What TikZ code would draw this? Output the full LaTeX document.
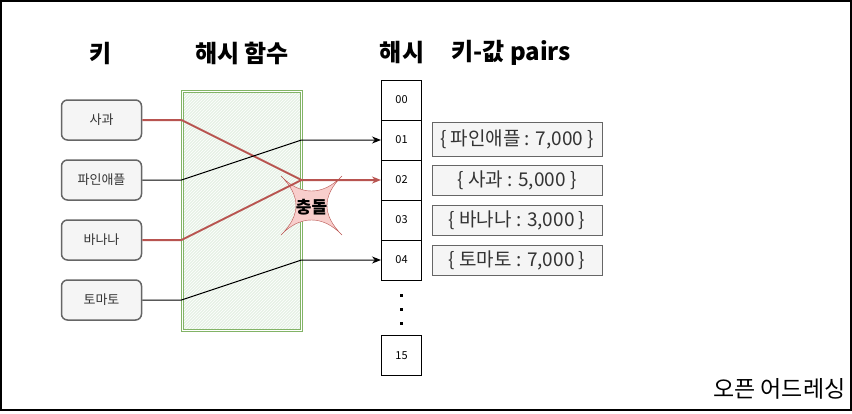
\documentclass[tikz,border=0pt]{standalone}
\usepackage{fontspec}
\setmainfont{Noto Sans CJK KR}
\usetikzlibrary{arrows.meta,positioning,patterns}
\definecolor{cred}{HTML}{B85450}
\definecolor{credlight}{HTML}{F8CECC}
\definecolor{cgreen}{HTML}{82B366}
\definecolor{cgreenlight}{HTML}{D5E8D4}
\definecolor{cgray}{HTML}{666666}
\definecolor{cgraylight}{HTML}{F5F5F5}
\definecolor{ctext}{HTML}{333333}

\begin{document}
\begin{tikzpicture}[x=1pt, y=-1pt,
    title/.style={font=\fontsize{24}{28}\selectfont\bfseries},
    keybox/.style={draw=cgray, fill=cgraylight, rounded corners=6pt, line width=1.5pt,
                   minimum width=80pt, minimum height=40pt, inner sep=0pt,
                   text=ctext, font=\fontsize{13}{15}\selectfont},
    cell/.style={draw, line width=1pt, minimum width=40pt, minimum height=40pt, inner sep=0pt,
                 font=\fontsize{11}{13}\selectfont},
    pairbox/.style={draw=cgray, fill=cgraylight, line width=1pt, minimum width=170pt,
                    minimum height=30pt, inner sep=0pt, text=ctext,
                    font=\fontsize{19}{22}\selectfont},
    arr/.style={-{Stealth[length=9pt, width=7pt]}, line width=1pt},
    redarr/.style={arr, cred, line width=2pt},
    redline/.style={cred, line width=2pt},
]
\useasboundingbox (0,0) rectangle (852,413);

% frame
\draw[line width=1.5pt] (1,1) rectangle (851,410);

% column titles
\node[title] (tkey)  at (101,53) {키};
\node[title] (tfn)   at (242,53) {해시 함수};
\node[title] (thash) at (402,53) {해시};
\node[title] (tpair) at (511,53) {키-값 pairs};

% keys
\node[keybox] (apple)     at (101.5,120) {사과};
\node[keybox] (pineapple) at (101.5,180) {파인애플};
\node[keybox] (banana)    at (101.5,240) {바나나};
\node[keybox] (tomato)    at (101.5,300) {토마토};

% hash function
\node[draw=cgreen, double=white, double distance=1pt, line width=1pt,
      preaction={fill=cgreenlight!60}, pattern=north east lines, pattern color=white,
      minimum width=119pt, minimum height=239pt] (hashfn) at (241.5,210.5) {};

% hash table
\foreach \i/\lab in {0/00,1/01,2/02,3/03,4/04}
    \node[cell] (h\lab) at (401.5,100+40*\i) {\lab};
\foreach \y in {294,308,322}
    \fill (400,\y) rectangle (402.5,\y+2.5);
\node[cell] (h15) at (401.5,355.5) {15};

% key-value pairs
\node[pairbox, minimum height=34pt] (p01) at (517,139) {\{ 파인애플 : 7,000 \}};
\node[pairbox] (p02) at (517,180) {\{ 사과 : 5,000 \}};
\node[pairbox] (p03) at (517,220) {\{ 바나나 : 3,000 \}};
\node[pairbox] (p04) at (517,260) {\{ 토마토 : 7,000 \}};

% collision mark
\draw[cred, fill=credlight]
    (281,176) .. controls (300,196) and (323,196) .. (342,176)
              .. controls (322,196) and (322,215) .. (342,235)
              .. controls (323,215) and (300,215) .. (281,235)
              .. controls (301,215) and (301,196) .. cycle;

% hashing paths
\draw[redarr, line join=round] (apple.east) -- (apple -| hashfn.west) -- (hashfn.east |- h02) -- (h02.west);
\draw[redline, line join=round] (banana.east) -- (banana -| hashfn.west) -- (hashfn.east |- h02);
\draw[arr] (pineapple.east) -- (pineapple -| hashfn.west) -- (hashfn.east |- h01) -- (h01.west);
\draw[arr] (tomato.east) -- (tomato -| hashfn.west) -- (hashfn.east |- h04) -- (h04.west);

\node[font=\fontsize{17}{19}\selectfont\bfseries] (clash) at (311.5,207) {충돌};

% caption
\node[font=\fontsize{23}{26}\selectfont, anchor=east] (caption) at (849,389) {오픈 어드레싱};

\end{tikzpicture}
\end{document}
